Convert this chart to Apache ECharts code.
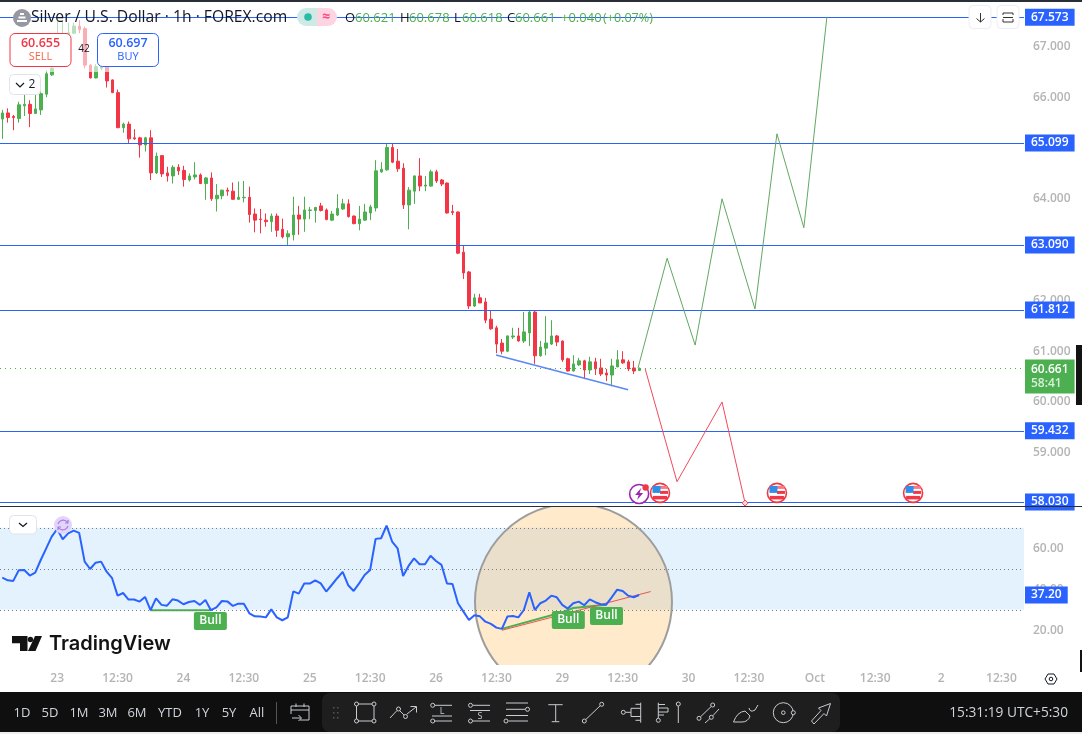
<!DOCTYPE html>
<html><head><meta charset="utf-8">
<style>html,body{margin:0;padding:0;background:#fff}#c{width:1082px;height:734px}</style>
<script src="https://cdn.jsdelivr.net/npm/echarts@6/dist/echarts.min.js"></script>
</head><body><div id="c"></div>
<script>
// ---- data ----
const opens=[65.57,65.69,65.62,65.58,65.83,65.86,65.68,65.75,66.06,66.44,
66.63,67.06,67.19,67.26,67.40,67.35,66.63,66.38,66.57,66.61,
66.34,66.09,65.40,65.47,65.20,65.20,65.06,65.20,64.51,64.85,
64.51,64.45,64.62,64.56,64.37,64.43,64.47,64.30,64.41,64.00,
64.06,64.17,64.15,63.99,64.02,64.03,63.70,63.60,63.58,63.55,
63.66,63.40,63.25,63.29,63.68,63.60,63.77,63.77,63.86,63.78,
63.58,63.68,63.80,63.90,63.66,63.51,63.58,63.72,63.82,64.53,
64.57,65.01,64.74,64.60,63.88,64.15,64.45,64.25,64.25,64.53,
64.37,64.31,63.75,63.74,62.95,62.56,61.89,62.05,61.97,61.63,
61.46,61.16,61.00,61.28,61.30,61.20,61.36,61.77,60.91,61.06,
61.14,61.30,61.20,60.85,60.61,60.73,60.81,60.63,60.79,60.67,
60.57,60.53,60.69,60.83,60.79,60.67,60.621];
const closes=[65.69,65.60,65.60,65.85,65.86,65.68,65.77,66.07,66.46,66.57,
67.06,67.19,67.27,67.40,67.33,66.63,66.38,66.60,66.60,66.32,
66.09,65.40,65.47,65.18,65.18,65.06,65.20,64.51,64.84,64.49,
64.45,64.62,64.55,64.38,64.45,64.47,64.30,64.41,64.00,64.07,
64.17,64.15,63.99,64.03,64.03,63.69,63.58,63.59,63.55,63.66,
63.38,63.25,63.31,63.68,63.60,63.78,63.78,63.83,63.77,63.59,
63.70,63.81,63.90,63.65,63.51,63.60,63.74,63.84,64.55,64.58,
65.01,64.72,64.59,63.88,64.17,64.45,64.25,64.27,64.53,64.35,
64.29,63.72,63.73,62.93,62.54,61.89,62.05,61.95,61.61,61.44,
61.14,61.00,61.30,61.30,61.20,61.38,61.77,60.91,61.08,61.16,
61.30,61.18,60.83,60.61,60.75,60.81,60.63,60.79,60.65,60.55,
60.53,60.71,60.83,60.77,60.65,60.61,60.661];
const lows=[65.18,65.50,65.35,65.50,65.63,65.41,65.67,65.65,66.00,66.42,
66.60,67.03,67.06,67.24,67.26,66.57,66.37,66.37,66.53,66.19,
66.08,65.39,65.30,65.09,65.16,64.81,64.93,64.37,64.49,64.43,
64.34,64.30,64.47,64.24,64.34,64.38,64.29,63.98,63.96,63.75,
63.99,64.06,63.98,63.98,63.93,63.53,63.34,63.32,63.45,63.35,
63.25,63.22,63.09,63.18,63.29,63.35,63.60,63.53,63.75,63.58,
63.56,63.66,63.78,63.63,63.50,63.38,63.57,63.58,63.75,64.51,
64.55,64.70,64.53,63.80,63.40,63.90,64.15,64.15,64.24,64.31,
64.25,63.71,63.68,62.91,62.42,61.83,61.87,61.95,61.55,61.42,
60.96,60.94,60.98,61.24,61.19,61.16,61.10,60.75,60.89,60.92,
61.12,61.10,60.79,60.60,60.60,60.71,60.45,60.55,60.53,60.51,
60.41,60.31,60.69,60.75,60.61,60.55,60.618];
const highs=[65.75,65.78,65.65,65.91,66.06,65.94,66.07,66.27,66.53,66.67,
67.49,67.50,67.47,67.47,67.52,67.39,66.65,66.65,66.67,66.67,
66.35,66.15,65.50,65.52,65.37,65.22,65.22,65.35,64.91,64.86,
64.63,64.66,64.68,64.65,64.50,64.72,64.50,64.43,64.52,64.29,
64.18,64.22,64.32,64.34,64.35,64.24,63.81,63.80,63.71,63.71,
63.71,63.61,63.38,64.04,63.86,64.04,63.84,63.84,63.92,63.81,
63.76,64.09,64.00,63.99,63.67,63.86,63.90,63.88,64.76,64.72,
65.09,65.09,64.98,64.70,64.23,64.46,64.80,64.45,64.57,64.57,
64.39,64.32,63.88,63.75,63.09,62.58,62.13,62.13,62.05,61.81,
61.50,61.24,61.31,61.46,61.46,61.77,61.81,61.81,61.20,61.69,
61.61,61.32,61.21,60.87,60.92,60.87,60.83,60.89,60.87,60.85,
60.65,60.85,61.02,61.00,60.83,60.81,60.678];
const rsiValues=[45.7,44.4,44.1,49.3,49.4,46.7,48.1,54.3,60.0,65.7,
69.4,64.4,67.3,68.6,67.5,53.5,49.9,53.0,53.5,48.6,
45.4,36.9,38.2,35.0,35.0,34.0,36.3,29.8,35.6,32.4,
32.0,35.1,34.5,32.7,33.8,34.3,32.4,34.8,29.8,31.2,
34.3,34.1,31.9,33.0,33.0,28.3,26.8,26.7,26.3,30.2,
26.3,24.9,26.3,39.0,37.9,42.8,42.8,44.4,42.9,38.9,
42.1,45.4,48.5,42.0,39.2,42.9,47.0,49.4,64.6,64.9,
71.1,63.3,60.0,46.5,51.4,55.1,52.2,52.2,56.4,53.8,
51.9,42.8,42.6,33.2,29.1,25.0,27.3,26.8,24.2,23.1,
21.3,20.7,26.7,27.0,26.3,29.9,38.5,29.9,33.2,34.5,
36.9,36.1,32.4,30.6,33.2,34.0,32.2,35.1,33.7,32.7,
32.5,36.1,39.8,39.2,36.9,36.1,37.2];
const levels=[67.573,65.099,63.090,61.812,59.432,58.030];
const lastClose=60.661;
const lastRsi=37.20;
const priceTicks=[58,59,60,61,62,63,64,65,66,67];
const rsiTicks=[20,40,60];
const rsiBands=[30,50,70];
const tickBars=[10,21,33,44,56,67,79,90,102,113,125,136,148,159,171,182];
const tickLabels=['23','12:30','24','12:30','25','12:30','26','12:30','29','12:30','30','12:30','Oct','12:30','2','12:30'];
const supportLine=[[89.93,60.925],[114,60.24]];
const bullishPath=[[115.8,60.67],[121.1,62.83],[126.2,61.12],[131.1,64.0],[137.1,61.83],[141.1,65.28],[146,63.43],[150.2,67.58]];
const bearishPath=[[117.1,60.65],[122.9,58.43],[131.1,60.0],[135.3,58.01]];
const eventFlags=[[119.8,58.21],[141.1,58.21],[165.9,58.21]];
const eventBolt=[[116,58.19]];
const bullLabels=[[37.9,24.5],[103.1,25.0],[110.05,27.0]];
const divFlat=[[27,29.8],[38,29.8]];
const divGreen=[[91,20.7],[102,28.8],[104,30.9],[110,32.5]];
const divRed=[[91,20.0],[118.1,38.9]];
const highlightCircle=[[104.04,33.8]];

// ---- scale set-up (bar index <-> screen) ----
const barStep=5.49, firstBarX=2.3, paneW=1024;
const xMin=(0-firstBarX)/barStep, xMax=(paneW-firstBarX)/barStep;
const barCount=187;
const cats=Array.from({length:barCount},(_,i)=>String(i));
const candles=opens.map((o,i)=>[o,closes[i],lows[i],highs[i]]);
const rsiPoints=rsiValues.map((v,i)=>[i,v]);
const priceMin=57.972, priceMax=67.874, rsiMin=3.07, rsiMax=80.15;
const UP='#4caf50', DOWN='#f23645', BLUE='#2962ff', GREY='#b4b4b4';
const FF='"Open Sans","Noto Sans",sans-serif';

const tagLabel=(bg,fmt,extra)=>Object.assign({show:true,position:'end',distance:1,formatter:fmt,backgroundColor:bg,color:'#fff',
  fontFamily:FF,fontSize:12,fontWeight:600,padding:[2,6],lineHeight:13},extra||{});

// ---- chrome drawn as page furniture ----
const G=[];
const PD=[];
const T=(text,x,y,fill,size,weight,align)=>G.push({type:'text',x,y,z:30,silent:true,style:{text,fill,align:align||'left',verticalAlign:'middle',font:(weight||400)+' '+size+'px '+FF}});
const R=(x,y,w,h,fill,extra,z)=>G.push({type:'rect',z:z||20,silent:true,shape:Object.assign({x,y,width:w,height:h},extra&&extra.r?{r:extra.r}:{}),style:Object.assign({fill},extra&&extra.style||{})});
const P=(d,stroke,lw,fill)=>PD.push({type:'path',shape:{pathData:d},style:{stroke:stroke,lineWidth:lw||1,fill:fill||'none'}});
const C=(cx,cy,r,stroke,fill,lw)=>G.push({type:'circle',z:31,silent:true,shape:{cx,cy,r},style:{stroke:stroke||'none',fill:fill||'none',lineWidth:lw||1}});

// fade behind legend (below the levels)
R(0,3,292,27,'rgba(255,255,255,0.6)',null,3);
R(0,30,165,42,'rgba(255,255,255,0.6)',null,3);

// frame
R(0,0,1082,2,'#2a2e39');
R(0,506,1082,1,'#2a2e39');
R(0,692,1082,40,'#0f0f0f');
R(0,732,1082,2,'#eeeeee');
R(1076,345,6,60,'#131313');
R(1080,650,2,22,'#131313');

// header
C(22,18,9,null,'#9598a1');
P('M17 21H27M18.5 17.5H25.5M20 14H24','#fff',2);
T('Silver / U.S. Dollar · 1h · FOREX.com',31,18,'#131722',15.7);
R(297,8,20,18,'#cdeae6',{r:[9,0,0,9]});
R(317,8,20,18,'#fdd5e2',{r:[0,9,9,0]});
C(308,17,3.8,null,'#2dbaa6');
T('≈',326,17,'#f7487f',14,700,'center');
T('O',345,18,'#131722',13);T('60.621',355,18,UP,13,500);
T('H',400,18,'#131722',13);T('60.678',409,18,UP,13,500);
T('L',454,18,'#131722',13);T('60.618',462,18,UP,13,500);
T('C',507,18,'#131722',13);T('60.661',515,18,UP,13,500);
T('+0.040',561,18,UP,13,500);T('(+0.07%)',603,18,UP,12.6,500);

// sell / buy
R(10,33.5,61,33,'#fff',{r:5,style:{stroke:DOWN,lineWidth:1}});
T('60.655',40.5,43,DOWN,12.5,600,'center');T('SELL',40.5,57,'#f4664a',11,400,'center');
R(97.5,33.5,61,33,'#fff',{r:5,style:{stroke:BLUE,lineWidth:1}});
T('60.697',128,43,BLUE,12.5,600,'center');T('BUY',128,57,BLUE,11,400,'center');
T('42',84,49,'#131722',10,400,'center');
R(9.5,74.5,31,20,'#fff',{r:4,style:{stroke:'#e0e3eb',lineWidth:1}});
P('M16 83L20 87L24 83','#131722',1.2);T('2',32,85,'#131722',12,400,'center');

// top right buttons
R(969,5.5,22,23,'#fff',{r:4,style:{stroke:'#eceef2',lineWidth:1}});
R(997,5.5,22,23,'#fff',{r:4,style:{stroke:'#eceef2',lineWidth:1}});
P('M980.5 13V22M976.5 18.5L980.5 22L984.5 18.5','#333',1);
P('M1003 15V13H1013V15M1003 19V22H1013V19M1003 17.5H1013','#333',1);

// RSI pane furniture
R(9.5,515.5,27,18.5,'#fff',{r:4,style:{stroke:'#e0e3eb',lineWidth:1}});
P('M19 523L23 526.5L27 523','#131722',1.2);
C(63,525,9,null,'#e3d5f9');
P('M58 524A5.5 5.5 0 0 1 68 523M68 526A5.5 5.5 0 0 1 58 527M68 520V523H65M58 530V527H61','#a47de6',1.2);

// logo
P('M12 636H27.5V651H20V643.3H12Z','none',0,'#131313');
C(30.4,639.5,2.7,null,'#131313');
P('M35 636H42L35.5 651H28Z','none',0,'#131313');
G.push({type:'text',x:49,y:644,z:30,silent:true,style:{text:'TradingView',fill:'#131313',align:'left',verticalAlign:'middle',font:'600 20px Inter,'+FF}});

// settings hexagon
P('M1045 679L1048 674H1054L1057 679L1054 684H1048Z','#131722',1);C(1051,679,1.8,'#131722',null,1);

// bottom bar
[['1D',22],['5D',50],['1M',79],['3M',108],['6M',137],['YTD',170],['1Y',202],['5Y',229],['All',257]].forEach(a=>T(a[0],a[1],713,'#d1d4dc',13,400,'center'));
R(276,702,1,22,'#555');
R(322,693,518,39,'#1e1e1e',{r:[8,8,8,8]},21);
const IC='#c9cbd1';
P('M291 710H309M291 714V706H309V720H300M296 703.5V707M304 703.5V707M292 718H301M298.5 715L301.5 718L298.5 721',IC,1);
[[333,707],[337,707],[333,712],[337,712],[333,717],[337,717]].forEach(a=>R(a[0],a[1],1.5,1.5,'#555',null,31));
P('M358 704H372M358 721H372M356.5 706V719M374 706V719',IC,1);
[[356.5,704],[374,704],[356.5,721],[374,721]].forEach(a=>C(a[0],a[1],2,IC));
P('M390 718L397 710.5M400 711L404 715M407 714L416 707M410.5 706.5H416.5V712.5',IC,1);C(398.5,709,2,IC);C(405.5,716.5,2,IC);
P('M435 705.3H452M432 716H452M435 721H452',IC,1);C(432.7,705.3,2,IC);C(432.7,721,2,IC);T('L',442,711,IC,9,400,'center');
P('M473 705.3H490M470 710.5H490M473 721H490',IC,1);C(470.5,705.3,2,IC);C(470.5,721,2,IC);T('S',480,716,IC,9,400,'center');
P('M506 703H528M506 709.3H525M506 715.5H528M508.5 721H528',IC,1);C(527.5,709.3,2,IC);C(506,721,2,IC);
P('M548.3 704.7H562.7M555.7 704.7V721.7M551.7 721.7H559.3',IC,1);
P('M585.7 719.6L600.3 705.7',IC,1);C(584.3,721,2,IC);C(601.7,704.3,2,IC);
P('M625.5 712.3H631M640.7 702.7V722.7M631 708.3H640.7M631 716.5H640.7M631 708.3V716.5M635.5 704.3H640.7M635.5 720.3H640.7',IC,1);C(623.3,712.3,2,IC);
P('M658.3 702.7V718M658.3 704.5H665M658.3 708H668V712H658.3M658.3 715H664',IC,1);C(658.3,720.3,2,IC);
P('M678.3 706V723',IC,1);C(678.3,704,2,IC);
P('M700.5 716.8L711.2 706.5M705 723L709.8 718.7M712.8 715.8L719 709',IC,1);C(699,718.3,2,IC);C(712.7,705,2,IC);C(711.3,717.3,2,IC);
P('M733.5 722Q737 712 745 711L750 716Q748 722 742 722ZM749 708Q750 713 755 710L758 705',IC,1);
C(783.3,712.7,10,IC);C(783.3,712.7,1.8,IC);C(793.3,712.7,2,IC,'#1e1e1e');
P('M811.5 721L821 710.5L818.5 708L830.5 703.5L826.5 716L824 713.5L814 724Z',IC,1);
T('15:31:19 UTC+5:30',1068,713,'#d1d4dc',13.7,400,'right');

const series=[
 {type:'candlestick',xAxisIndex:0,yAxisIndex:0,data:candles,barWidth:3,z:2,animation:false,silent:true,
  itemStyle:{color:UP,color0:DOWN,borderColor:UP,borderColor0:DOWN,borderWidth:1}},
 {type:'line',name:'levels',xAxisIndex:1,yAxisIndex:1,data:[],z:5,animation:false,silent:true,
  markLine:{silent:true,animation:false,symbol:'none',precision:3,lineStyle:{color:BLUE,width:1,type:'solid'},
   label:tagLabel(BLUE,p=>Number(p.value).toFixed(3)),data:levels.map(v=>({yAxis:v}))}},
 {type:'line',name:'last',xAxisIndex:1,yAxisIndex:1,data:[],z:5,animation:false,silent:true,
  markLine:{silent:true,animation:false,symbol:'none',precision:3,lineStyle:{color:UP,width:1,type:[1,4]},
   label:tagLabel(UP,p=>'{a|'+Number(p.value).toFixed(3)+'}\n{b|58:41}',{padding:[3,6],lineHeight:14,offset:[0,8],
     rich:{a:{color:'#fff',fontFamily:FF,fontSize:12,fontWeight:600,lineHeight:14},b:{color:'#d9efda',fontFamily:FF,fontSize:12,fontWeight:600,lineHeight:14}}}),data:[{yAxis:lastClose}]}},
 {type:'line',name:'support',xAxisIndex:1,yAxisIndex:1,data:supportLine,z:6,symbol:'none',animation:false,silent:true,
  lineStyle:{color:'#5c88f5',width:1.6}},
 {type:'line',name:'bull path',xAxisIndex:1,yAxisIndex:1,data:bullishPath,z:6,symbol:'none',animation:false,silent:true,
  lineStyle:{color:'#62a862',width:1}},
 {type:'line',name:'bear path',xAxisIndex:1,yAxisIndex:1,data:bearishPath,z:6,symbol:'none',animation:false,silent:true,clip:false,
  lineStyle:{color:'#f2495c',width:1}},
 {type:'scatter',name:'bear arrow',xAxisIndex:1,yAxisIndex:1,data:[bearishPath[bearishPath.length-1]],z:6,symbol:'diamond',symbolSize:6,animation:false,silent:true,clip:true,
  itemStyle:{color:'#ffd6db',borderColor:'#f2495c',borderWidth:1,opacity:1}},
 {type:'custom',name:'flags',xAxisIndex:1,yAxisIndex:1,data:eventFlags,z:7,animation:false,silent:true,clip:false,encode:{x:0,y:1},
  renderItem:(p,api)=>{const c=api.coord([api.value(0),api.value(1)]);return {type:'group',x:c[0],y:c[1],children:[
    {type:'circle',shape:{cx:0,cy:0,r:9.5},style:{fill:'#fff',stroke:'#f23645',lineWidth:1.6}},
    {type:'rect',shape:{x:-7.5,y:-7,width:15,height:3},style:{fill:'#f77c80'}},
    {type:'rect',shape:{x:0,y:-2,width:8,height:3},style:{fill:'#f23645'}},
    {type:'rect',shape:{x:-7,y:3,width:14,height:3.5},style:{fill:'#f23645'}},
    {type:'rect',shape:{x:-7.5,y:-7,width:8,height:7},style:{fill:'#2f8fe8'}}]};}},
 {type:'custom',name:'bolt',xAxisIndex:1,yAxisIndex:1,data:eventBolt,z:7,animation:false,silent:true,clip:false,encode:{x:0,y:1},
  renderItem:(p,api)=>{const c=api.coord([api.value(0),api.value(1)]);return {type:'group',x:c[0],y:c[1],children:[
    {type:'circle',shape:{cx:0,cy:0,r:9.5},style:{fill:'#fff',stroke:'#9c27b0',lineWidth:1.6}},
    {type:'polygon',shape:{points:[[2,-6],[-4,1],[-0.5,1],[-2,6],[4,-1],[0.5,-1]]},style:{fill:'#9c27b0'}},
    {type:'circle',shape:{cx:6.5,cy:-6.5,r:3.2},style:{fill:'#f23645'}}]};}},
 {type:'line',name:'band',xAxisIndex:2,yAxisIndex:2,data:[],z:2,animation:false,silent:true,
  markArea:{silent:true,animation:false,itemStyle:{color:'#e4f2fd'},data:[[{yAxis:rsiBands[0]},{yAxis:rsiBands[2]}]]},
  markLine:{silent:true,animation:false,symbol:'none',label:{show:false},lineStyle:{color:'#787b86',width:1,type:[1,3]},data:rsiBands.map(v=>({yAxis:v}))}},
 {type:'custom',name:'circle',xAxisIndex:2,yAxisIndex:2,data:highlightCircle,z:3,animation:false,silent:true,clip:true,encode:{x:0,y:1},
  renderItem:(p,api)=>{const c=api.coord([api.value(0),api.value(1)]);const r=api.size([17.94,0])[0];
   return {type:'circle',shape:{cx:c[0],cy:c[1],r:r},style:{fill:'rgba(255,152,0,0.2)',stroke:'#9d9d9d',lineWidth:2}};}},
 {type:'line',name:'flat',xAxisIndex:2,yAxisIndex:2,data:divFlat,z:4,symbol:'none',animation:false,silent:true,lineStyle:{color:UP,width:2}},
 {type:'line',name:'green',xAxisIndex:2,yAxisIndex:2,data:divGreen,z:4,symbol:'none',animation:false,silent:true,lineStyle:{color:UP,width:2}},
 {type:'line',name:'red',xAxisIndex:2,yAxisIndex:2,data:divRed,z:4,symbol:'none',animation:false,silent:true,lineStyle:{color:'#ef5350',width:1}},
 {type:'line',name:'RSI',xAxisIndex:2,yAxisIndex:2,data:rsiPoints,z:5,symbol:'none',animation:false,silent:true,lineStyle:{color:BLUE,width:2},
  markLine:{silent:true,animation:false,symbol:'none',precision:2,lineStyle:{color:'transparent',width:1},
   label:tagLabel(BLUE,p=>Number(p.value).toFixed(2)),data:[{yAxis:lastRsi}]}},
 {type:'custom',name:'bull',xAxisIndex:2,yAxisIndex:2,data:bullLabels,z:6,animation:false,silent:true,encode:{x:0,y:1},
  renderItem:(p,api)=>{const c=api.coord([api.value(0),api.value(1)]);return {type:'group',x:c[0],y:c[1],children:[
    {type:'rect',shape:{x:-16.5,y:-9,width:33,height:18,r:2},style:{fill:UP}},
    {type:'text',style:{text:'Bull',x:0,y:0,align:'center',verticalAlign:'middle',fill:'#fff',font:'600 12px '+FF}}]};}},
 {type:'custom',name:'icons',coordinateSystem:'none',data:[0],z:40,animation:false,silent:true,
  renderItem:()=>({type:'group',children:PD})}
];

const option={
 animation:false,backgroundColor:'#fff',
 grid:[
  {left:firstBarX-barStep/2,top:2,width:barStep*barCount,height:503,containLabel:false},
  {left:0,top:2,width:paneW,height:503},
  {left:0,top:507,width:paneW,height:158}
 ],
 xAxis:[
  {type:'category',gridIndex:0,data:cats,show:false,boundaryGap:true},
  {type:'value',gridIndex:1,min:xMin,max:xMax,show:false,splitLine:{show:false}},
  {type:'value',gridIndex:2,min:xMin,max:xMax,position:'bottom',splitLine:{show:false},axisLine:{show:false},axisTick:{show:false},
   axisLabel:{customValues:tickBars,margin:8,color:GREY,fontFamily:FF,fontSize:12,fontWeight:600,hideOverlap:false,
    formatter:v=>tickLabels[tickBars.indexOf(v)]}}
 ],
 yAxis:[
  {type:'value',gridIndex:0,min:priceMin,max:priceMax,show:false,scale:true,splitLine:{show:false}},
  {type:'value',gridIndex:1,min:priceMin,max:priceMax,position:'right',splitLine:{show:false},axisLine:{show:false},axisTick:{show:false},
   axisLabel:{customValues:priceTicks,margin:9,padding:[5,0,0,0],color:GREY,fontFamily:FF,fontSize:12,fontWeight:600,formatter:v=>v.toFixed(3)}},
  {type:'value',gridIndex:2,min:rsiMin,max:rsiMax,position:'right',splitLine:{show:false},axisLine:{show:false},axisTick:{show:false},
   axisLabel:{customValues:rsiTicks,margin:9,padding:[4,0,0,0],color:GREY,fontFamily:FF,fontSize:12,fontWeight:600,formatter:v=>v.toFixed(2)}}
 ],
 series:series,
 graphic:{elements:G}
};
const chart=echarts.init(document.getElementById('c'),null,{renderer:'canvas'});
chart.setOption(option);
</script></body></html>
